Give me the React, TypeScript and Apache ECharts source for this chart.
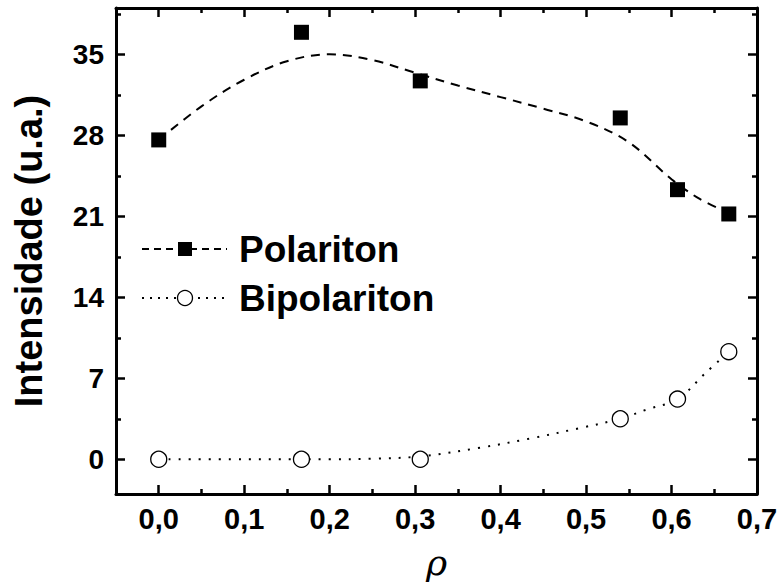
import React, { useEffect, useRef } from "react";
import * as echarts from "echarts";

const rhoValues = [0, 0.167, 0.306, 0.54, 0.607, 0.667];
const polaritonValues = [27.6, 36.9, 32.7, 29.5, 23.3, 21.2];
const bipolaritonValues = [0, 0, 0, 3.5, 5.2, 9.3];

const polaritonCurveX = [0, 0.05, 0.1, 0.15, 0.2, 0.25, 0.3, 0.35, 0.4, 0.45, 0.5, 0.55, 0.6, 0.633, 0.667];
const polaritonCurveY = [27.6, 30.5, 32.8, 34.4, 35.0, 34.5, 33.4, 32.3, 31.3, 30.3, 29.2, 27.4, 24.2, 22.5, 21.3];

const bipolaritonCurveX = [0, 0.1, 0.2, 0.25, 0.306, 0.376, 0.435, 0.493, 0.54, 0.571, 0.607, 0.639, 0.667];
const bipolaritonCurveY = [0, 0, 0, 0.05, 0.25, 1.0, 1.8, 2.7, 3.5, 4.3, 5.2, 7.4, 9.3];

const xMajorTicks = [0, 0.1, 0.2, 0.3, 0.4, 0.5, 0.6, 0.7];
const xMinorTicks = [-0.05, 0.05, 0.15, 0.25, 0.35, 0.45, 0.55, 0.65];
const yMajorTicks = [0, 7, 14, 21, 28, 35];
const yMinorTicks = [3.5, 10.5, 17.5, 24.5, 31.5, 38.5];

const seriesNames = ["Polariton", "Bipolariton"];
const xTitle = "ρ";
const yTitle = "Intensidade (u.a.)";

const FONT = "'Liberation Sans', Arial, sans-serif";

export default function App() {
  const ref = useRef<HTMLDivElement>(null);
  useEffect(() => {
    if (!ref.current) return;
    const chart = echarts.init(ref.current, null, { renderer: "svg" });
    const X_MIN = -0.05, X_MAX = 0.7, Y_MIN = -3, Y_MAX = 39;
    const baseX = (position: string, ticks: number[], len: number, showLine: boolean, labels: boolean, extra: any = {}) => ({
      type: "value",
      position,
      min: X_MIN,
      max: X_MAX,
      splitLine: { show: false },
      axisLine: { show: showLine, onZero: false, lineStyle: { color: "#000", width: 3 } },
      axisTick: { show: true, inside: true, length: len, customValues: ticks, lineStyle: { color: "#000", width: 2.5 } },
      axisLabel: labels
        ? {
            show: true,
            customValues: ticks,
            formatter: (v: number) => v.toFixed(1).replace(".", ","),
            fontSize: 29,
            fontWeight: "bold",
            fontFamily: FONT,
            color: "#000",
            margin: 10,
          }
        : { show: false },
      ...extra,
    });
    const baseY = (position: string, ticks: number[], len: number, showLine: boolean, labels: boolean, extra: any = {}) => ({
      type: "value",
      position,
      min: Y_MIN,
      max: Y_MAX,
      splitLine: { show: false },
      axisLine: { show: showLine, onZero: false, lineStyle: { color: "#000", width: 3 } },
      axisTick: { show: true, inside: true, length: len, customValues: ticks, lineStyle: { color: "#000", width: 2.5 } },
      axisLabel: labels
        ? {
            show: true,
            customValues: ticks,
            formatter: (v: number) => String(v),
            fontSize: 28,
            fontWeight: "bold",
            fontFamily: FONT,
            color: "#000",
            margin: 12,
          }
        : { show: false },
      ...extra,
    });

    const zip = (xs: number[], ys: number[]) => xs.map((x, i) => [x, ys[i]]);

    const legendY = [249, 298];

    chart.setOption({
      animation: false,
      backgroundColor: "#fff",
      grid: { left: 116, right: 21, top: 8, bottom: 90, containLabel: false, outerBoundsMode: "none" },
      xAxis: [
        baseX("bottom", xMajorTicks, 9, true, true, {
          name: xTitle,
          nameLocation: "middle",
          nameGap: 50,
          nameTextStyle: { fontSize: 36, fontStyle: "italic", fontFamily: "'DejaVu Serif', serif", color: "#000", verticalAlign: "top" },
        }),
        baseX("bottom", xMinorTicks, 5, false, false),
        baseX("top", xMajorTicks, 9, true, false),
        baseX("top", xMinorTicks, 5, false, false),
      ],
      yAxis: [
        baseY("left", yMajorTicks, 9, true, true, {
          name: yTitle,
          nameLocation: "middle",
          nameGap: 68,
          nameRotate: 90,
          nameTextStyle: { fontSize: 38, fontWeight: "bold", fontFamily: FONT, color: "#000" },
        }),
        baseY("left", yMinorTicks, 5, false, false),
        baseY("right", yMajorTicks, 9, true, false),
        baseY("right", yMinorTicks, 5, false, false),
      ],
      series: [
        {
          type: "line",
          name: seriesNames[0] + " fit",
          data: zip(polaritonCurveX, polaritonCurveY),
          smooth: 0.35,
          showSymbol: false,
          lineStyle: { color: "#000", width: 2, type: [9, 7] },
          z: 2,
        },
        {
          type: "line",
          name: seriesNames[1] + " fit",
          data: zip(bipolaritonCurveX, bipolaritonCurveY),
          smooth: 0.35,
          showSymbol: false,
          lineStyle: { color: "#000", width: 2, type: [2, 8] },
          z: 2,
        },
        {
          type: "scatter",
          name: seriesNames[0],
          data: zip(rhoValues, polaritonValues),
          symbol: "rect",
          symbolSize: 15,
          itemStyle: { color: "#000", opacity: 1 },
          z: 5,
        },
        {
          type: "scatter",
          name: seriesNames[1],
          data: zip(rhoValues, bipolaritonValues),
          symbol: "circle",
          symbolSize: 16,
          itemStyle: { color: "#fff", borderColor: "#000", borderWidth: 1.3, opacity: 1 },
          z: 5,
        },
      ],
      graphic: [
        { type: "line", shape: { x1: 142, y1: legendY[0], x2: 227, y2: legendY[0] }, style: { stroke: "#000", lineWidth: 2, lineDash: [7, 5] }, z: 10 },
        { type: "rect", shape: { x: 178, y: legendY[0] - 7, width: 14, height: 14 }, style: { fill: "#000", stroke: "#fff", lineWidth: 0 }, z: 11 },
        { type: "text", x: 239, y: legendY[0], style: { text: seriesNames[0], font: `bold 37px ${FONT}`, fill: "#000", verticalAlign: "middle" }, z: 11 },
        { type: "line", shape: { x1: 142, y1: legendY[1], x2: 227, y2: legendY[1] }, style: { stroke: "#000", lineWidth: 2, lineDash: [2, 6] }, z: 10 },
        { type: "circle", shape: { cx: 185, cy: legendY[1], r: 7.5 }, style: { fill: "#fff", stroke: "#000", lineWidth: 1.3 }, z: 11 },
        { type: "text", x: 239, y: legendY[1], style: { text: seriesNames[1], font: `bold 37px ${FONT}`, fill: "#000", verticalAlign: "middle" }, z: 11 },
      ],
    });
    return () => chart.dispose();
  }, []);
  return <div ref={ref} style={{ width: 778, height: 584, position: "absolute", left: 0, top: 0 }} />;
}
